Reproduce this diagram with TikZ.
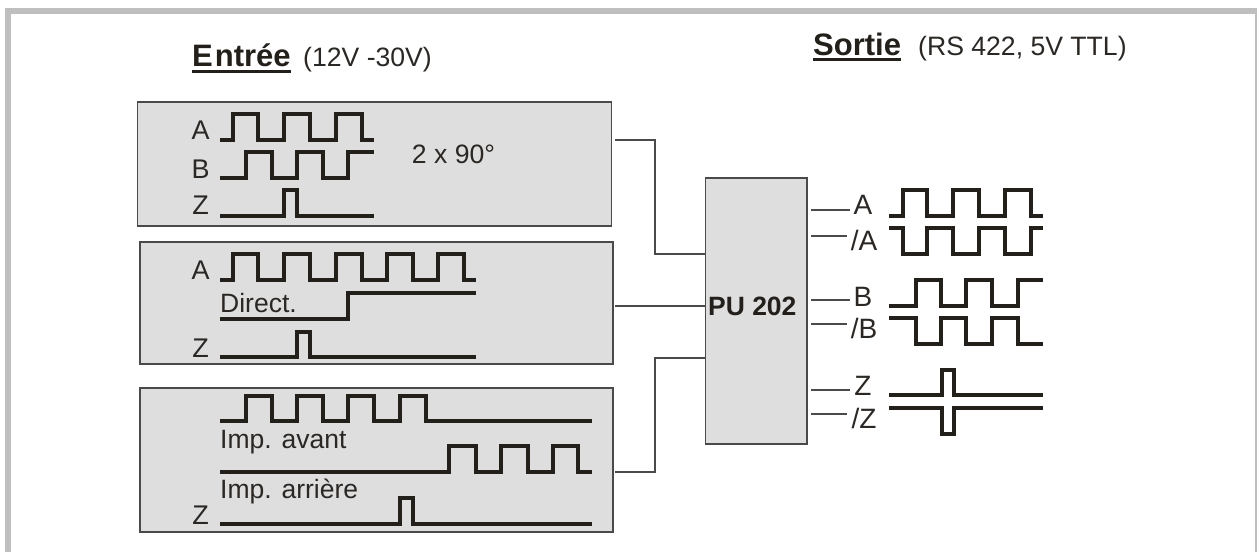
\documentclass[tikz,border=0pt]{standalone}
\usepackage{fontspec}
\setmainfont{Liberation Sans}
\definecolor{ink}{HTML}{23201C}
\definecolor{txt}{HTML}{2A2724}
\definecolor{panelfill}{HTML}{DEDEDE}
\definecolor{edge}{HTML}{4A4A48}
\definecolor{framegray}{HTML}{BFBFBF}
\tikzset{
  panel/.style={draw=edge,fill=panelfill,line width=1.2pt,inner sep=0pt,rectangle},
  wire/.style={draw=edge,line width=1.3pt},
  wave/.style={draw=ink,line width=4pt,line join=miter},
  lab/.style={inner sep=0pt,text=txt,font=\fontsize{27}{32}\selectfont},
  outlab/.style={inner sep=0pt,text=txt,font=\fontsize{28}{33}\selectfont},
  captxt/.style={inner sep=0pt,anchor=base west,text=txt,font=\fontsize{26.5}{31}\selectfont},
  headtxt/.style={inner sep=0pt,anchor=base west,text=ink,font=\fontsize{31}{37}\selectfont\bfseries},
  subtxt/.style={inner sep=0pt,anchor=base west,text=txt,font=\fontsize{26.6}{32}\selectfont},
  ulline/.style={draw=ink,line width=3pt}
}
\begin{document}
\begin{tikzpicture}[x=1pt,y=-1pt]
\useasboundingbox (0,0) rectangle (1257,552);
% frame
\fill[framegray] (5,8) rectangle (1257,552);
\fill[white] (11,14) rectangle (1255,552);
% headings
\node[headtxt] (entree) at (192,66.7) {E\kern2pt ntrée};
\draw[ulline] ([yshift=-4.5pt]entree.base west) -- ([yshift=-4.5pt]entree.base east);
\node[subtxt] (entreeV) at (303,66.7) {(12V -30V)};
\node[headtxt] (sortie) at (813,55) {Sortie};
\draw[ulline] ([yshift=-4.5pt]sortie.base west) -- ([yshift=-4.5pt]sortie.base east);
\node[subtxt] (sortieV) at (918,55) {(RS 422, 5V TTL)};
% panels
\node[panel,minimum width=474pt,minimum height=124pt] (in1) at (374.6,164) {};
\node[panel,minimum width=473pt,minimum height=122pt] (in2) at (376.5,303) {};
\node[panel,minimum width=473pt,minimum height=144pt] (in3) at (376.5,460) {};
\node[panel,minimum width=101.5pt,minimum height=266pt] (pu) at (756.3,311) {};
\node[inner sep=0pt,text=ink,font=\fontsize{26.5}{32}\selectfont\bfseries] (pulabel) at (752.3,306.7) {PU 202};
% connectors
\coordinate (c1) at (615,140);
\coordinate (c2) at (615,306);
\coordinate (c3) at (615,472);
\coordinate (p1) at (pu.west |- 0,254);
\coordinate (p2) at (pu.west |- 0,306);
\coordinate (p3) at (pu.west |- 0,358);
\draw[wire] (c1) -| (655,254) -- (p1);
\draw[wire] (c2) -- (p2);
\draw[wire] (c3) -| (655,358) -- (p3);
% input panel 1
\node[lab] (l1a) at (200.7,130.7) {A};
\node[lab] (l1b) at (200.7,169) {B};
\node[lab] (l1z) at (200.7,205) {Z};
\node[subtxt,anchor=west] (t90) at (411.7,154) {2 x 90°};
\draw[wave] (220,140) -| (233.3,114) -| (258.3,140) -| (284,114) -| (310,140) -| (336,114) -| (361.7,140) -- (374,140);
\draw[wave] (220,178.3) -| (245.7,152.3) -| (271.7,178.3) -| (296.7,152.3) -| (322.7,178.3) -| (348.3,152.3) -- (374,152.3);
\draw[wave] (220,216) -| (284,190) -| (296.7,216) -- (374,216);
% input panel 2
\node[lab] (l2a) at (200.7,270) {A};
\node[captxt] (dir) at (220,312) {Direct.};
\node[lab] (l2z) at (200.7,348) {Z};
\draw[wave] (220,280) -| (233.3,254) -| (258.3,280) -| (284,254) -| (310,280) -| (336,254) -| (361.7,280) -| (386.7,254) -| (412.7,280) -| (438.3,254) -| (464.3,280) -- (475.7,280);
\draw[wave] (220,319) -| (348.3,292.7) -- (475.7,292.7);
\draw[wave] (220,357.3) -| (296.7,331.7) -| (310,357.3) -- (475.7,357.3);
% input panel 3
\node[captxt] (avant) at (220,448) {Imp. avant};
\node[captxt] (arriere) at (220,498) {Imp. arrière};
\node[lab] (l3z) at (200.7,515) {Z};
\draw[wave] (220,420.7) -| (245.7,395.7) -| (271.7,420.7) -| (296.7,395.7) -| (322.7,420.7) -| (348.3,395.7) -| (374.3,420.7) -| (400,395.7) -| (426,420.7) -- (591.7,420.7);
\draw[wave] (220,472.3) -| (449.3,445.7) -| (475.7,472.3) -| (501,445.7) -| (527.7,472.3) -| (552.7,445.7) -| (578.3,472.3) -- (591.7,472.3);
\draw[wave] (220,524) -| (400,497.7) -| (412.7,524) -- (591.7,524);
% outputs
\node[outlab] (oa) at (863,205) {A};
\node[outlab] (ona) at (864,240) {/A};
\node[outlab] (ob) at (863,297) {B};
\node[outlab] (onb) at (864,328) {/B};
\node[outlab] (oz) at (863,386) {Z};
\node[outlab] (onz) at (864,418) {/Z};
\coordinate (s1) at (811,210);
\coordinate (s2) at (811,236);
\coordinate (s3) at (811,300);
\coordinate (s4) at (811,324);
\coordinate (s5) at (811,390);
\coordinate (s6) at (811,414);
\draw[wire] (s1) -- (850,210);
\draw[wire] (s2) -- (847,236);
\draw[wire] (s3) -- (850,300);
\draw[wire] (s4) -- (847,324);
\draw[wire] (s5) -- (850,390);
\draw[wire] (s6) -- (847,414);
\draw[wave] (889.3,216) -| (903.3,190) -| (927.3,216) -| (953.3,190) -| (979.3,216) -| (1005,190) -| (1030.7,216) -- (1042.7,216);
\draw[wave] (889.3,228.3) -| (903.3,254.3) -| (927.3,228.3) -| (953.3,254.3) -| (979.3,228.3) -| (1005,254.3) -| (1030.7,228.3) -- (1042.7,228.3);
\draw[wave] (889.3,306) -| (916,280) -| (940.7,306) -| (966,280) -| (991.7,306) -| (1017.7,280) -- (1042.7,280);
\draw[wave] (889.3,317.7) -| (916,344) -| (940.7,317.7) -| (966,344) -| (991.7,317.7) -| (1017.7,344) -- (1042.7,344);
\draw[wave] (889.3,395) -| (941.7,370) -| (954,395) -- (1042.7,395);
\draw[wave] (889.3,408.3) -| (941.7,434.3) -| (954,408.3) -- (1042.7,408.3);
\end{tikzpicture}
\end{document}
